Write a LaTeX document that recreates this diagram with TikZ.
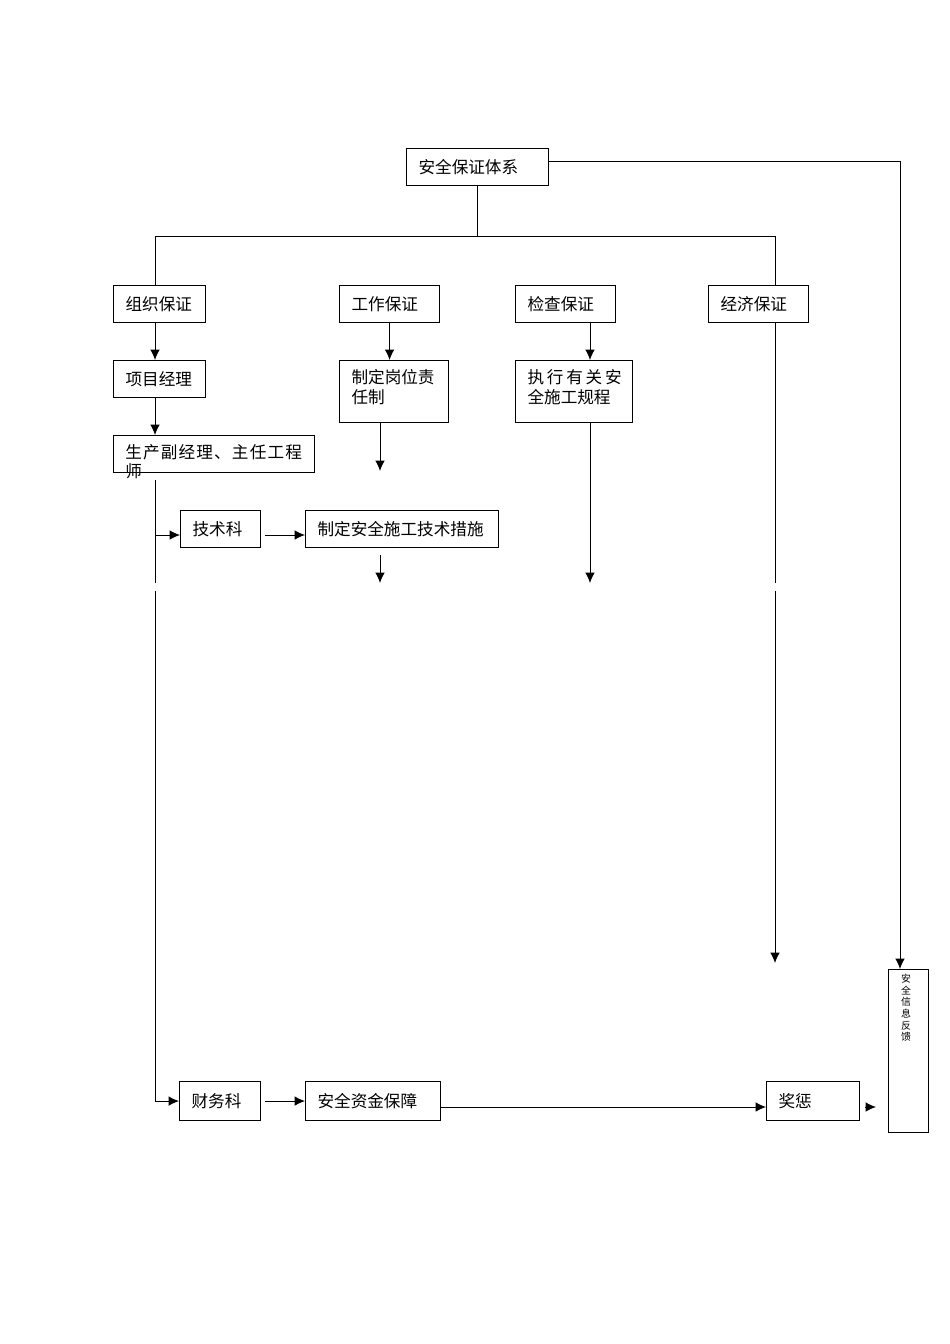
\documentclass[tikz,border=0pt]{standalone}
\usepackage{fontspec}
\newfontfamily\cjk{Noto Sans CJK SC}
\newfontfamily\cjkwide{Noto Sans CJK SC}[LetterSpace=7]
\usepackage{tikz}
\usetikzlibrary{arrows.meta,positioning}

\begin{document}
\begin{tikzpicture}[
x=0.626pt,y=-0.626pt,
box/.style={
  draw,
  line width=0.7pt,
  anchor=north west,
  inner xsep=7.5pt,
  inner ysep=0pt,
  minimum height=23.2pt,
  text width=#1,
  align=left,
  font=\cjk\fontsize{10.4}{12.2}\selectfont
},
line/.style={
  line width=0.6pt
},
arr/.style={
  line width=0.6pt,
  -{Latex[length=6.5pt,width=6pt]}
}
]
\useasboundingbox (0,0) rectangle (950,1344);

\node[box=73.9pt] at (406,148) (sys) {安全保证体系};

\node[box=42.6pt] at (113,285) (org) {组织保证};
\node[box=47.6pt] at (339,285) (work) {工作保证};
\node[box=47.6pt] at (515,285) (check) {检查保证};
\node[box=47.6pt] at (708,285) (econ) {经济保证};

\node[box=42.6pt] at (113,360) (pm) {项目经理};
\node[box=53.2pt,minimum height=38.8pt,text depth=18.5pt] at (339,360) (duty)
  {制定岗位责\\任制};
\node[box=58.2pt,minimum height=38.8pt,text depth=18.5pt] at (515,360) (exec)
  {执\,行\,有\,关\,安\\全施工规程};

\node[box=110.8pt] at (113,435) (vice) {};
\node[anchor=north west,inner sep=0pt,align=left,
  font=\cjkwide\fontsize{10.4}{12.2}\selectfont] at (125,444) (vicetxt)
  {生产副经理、主任工程\\师};

\node[box=35.1pt] at (180,510) (tech) {技术科};
\node[box=105.8pt] at (305,510) (meas) {制定安全施工技术措施};

\node[box=35.7pt,minimum height=24.4pt] at (179,1081) (fin) {财务科};
\node[box=69.5pt,minimum height=24.4pt] at (305,1081) (fund) {安全资金保障};
\node[box=43.2pt,minimum height=24.4pt] at (766,1081) (prize) {奖惩};

\node[draw,line width=0.7pt,anchor=north west,minimum width=25pt,
  minimum height=102pt,inner sep=0pt] at (888,969) (info) {};
\node[anchor=north,inner sep=0pt,align=center,
  font=\cjk\fontsize{6.2}{7.3}\selectfont] at (906,974) (infotxt)
  {安\\全\\信\\息\\反\\馈};

\coordinate (busL) at (155,236);
\coordinate (busR) at (775,236);
\coordinate (fbk) at (900,161);
\coordinate (a1) at (155,480);
\coordinate (a2) at (155,583);
\coordinate (a3) at (155,591);
\coordinate (ab) at (155,535);
\coordinate (m1) at (380,555);
\coordinate (m2) at (380,583);
\coordinate (d1) at (380,471);
\coordinate (e1) at (590,583);
\coordinate (f1) at (775,583);
\coordinate (f2) at (775,591);
\coordinate (f3) at (775,963);
\coordinate (h) at (440,1107);
\coordinate (k1) at (865,1107);
\coordinate (k2) at (876,1107);

% trunk and branches
\draw[line] (sys.south) -- (sys.south |- busL);
\draw[line] (org.north -| busL) -- (busL) -- (busR) -- (econ.north -| busR);
\draw[arr] (sys.east |- fbk) -- (fbk) -- (info.north -| fbk);

% organisation column
\draw[arr] (org.south -| busL) -- (pm.north -| busL);
\draw[arr] (pm.south -| busL) -- (vice.north -| busL);
\draw[line] (a1) -- (a2);
\draw[arr] (ab) -- (tech.west |- ab);
\draw[arr,shorten <=2.5pt] (tech.east |- ab) -- (meas.west |- ab);
\draw[arr] (m1) -- (m2);
\draw[arr] (a3) |- (fin);
\draw[arr,shorten <=2.5pt] (fin) -- (fund);

% work and check columns
\draw[arr] (work.south) -- (work.south |- duty.north);
\draw[arr] (duty.south -| d1) -- (d1);
\draw[arr] (check.south -| e1) -- (exec.north -| e1);
\draw[arr] (exec.south -| e1) -- (e1);

% economy column
\draw[line] (econ.south -| busR) -- (f1);
\draw[arr] (f2) -- (f3);
\draw[arr] (fund.east |- h) -- (prize.west |- h);
\draw[arr] (k1) -- (k2);
\end{tikzpicture}
\end{document}
